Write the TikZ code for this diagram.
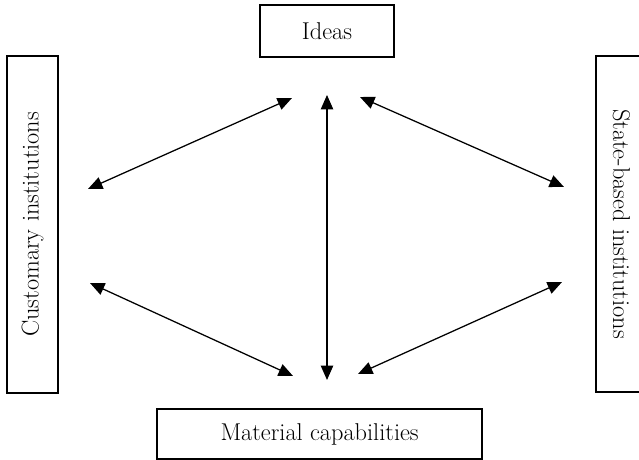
\documentclass[tikz,border=0pt]{standalone}
\usepackage{tikz}
\usetikzlibrary{arrows.meta}

\begin{document}
\begin{tikzpicture}[>={Triangle[length=3.6mm,width=3.1mm]},
  box/.style={draw,line width=1pt,inner sep=0pt,font=\fontsize{17.3}{20}\selectfont}]
\useasboundingbox (0,0) rectangle (15.975,11.5);
\node[box,minimum width=3.35cm,minimum height=1.3cm] (ideas) at (8.175,10.725) {Ideas};
\node[box,minimum width=8.125cm,minimum height=1.25cm] (mat) at (7.99,0.65) {Material capabilities};
\node[box,rotate=90,minimum width=8.425cm,minimum height=1.275cm] (cust) at (0.8125,5.89) {Customary institutions};
\node[box,rotate=-90,minimum width=8.4cm,minimum height=1.275cm] (state) at (15.5375,5.9) {State-based institutions};
% arrow ends
\coordinate (cu) at (2.2,6.775);
\coordinate (cd) at (2.25,4.425);
\coordinate (su) at (14.1,6.825);
\coordinate (sd) at (14.05,4.45);
\coordinate (il) at (7.3,9.05);
\coordinate (im) at (8.175,9.125);
\coordinate (ir) at (9.0,9.075);
\coordinate (ml) at (7.325,2.1);
\coordinate (mm) at (8.175,2.0);
\coordinate (mr) at (8.95,2.15);
\draw[<->,line width=0.9pt] (cu) -- (il);
\draw[<->,line width=0.9pt] (im) -- (mm);
\draw[<->,line width=0.9pt] (ir) -- (su);
\draw[<->,line width=0.9pt] (cd) -- (ml);
\draw[<->,line width=0.9pt] (mr) -- (sd);
\end{tikzpicture}
\end{document}
